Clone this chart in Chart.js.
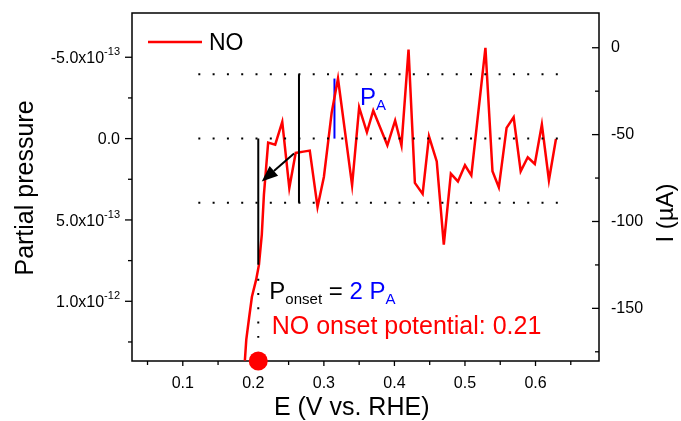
<!DOCTYPE html>
<html><head><meta charset="utf-8">
<script src="https://cdn.jsdelivr.net/npm/chart.js@4.4.0/dist/chart.umd.min.js"></script>
<style>html,body{margin:0;padding:0;background:#fff;}#wrap{width:681px;height:421px;}</style>
</head><body><div id="wrap"><canvas id="c" width="681" height="421"></canvas></div>
<script>
// ---- data ----
const E_NO = [0.188, 0.190, 0.194, 0.198, 0.204, 0.208, 0.212, 0.215, 0.221, 0.231, 0.241, 0.251, 0.260, 0.271, 0.280, 0.291, 0.300, 0.311, 0.320, 0.340, 0.350, 0.361, 0.370, 0.390, 0.401, 0.410, 0.420, 0.429, 0.440, 0.449, 0.460, 0.470, 0.480, 0.490, 0.500, 0.509, 0.529, 0.539, 0.548, 0.559, 0.569, 0.579, 0.589, 0.599, 0.609, 0.619, 0.629];
const P_NO = [13.65e-13, 12.36e-13, 11.01e-13, 9.72e-13, 8.67e-13, 7.75e-13, 5.90e-13, 3.44e-13, 0.25e-13, 0.37e-13, -1.03e-13, 3.03e-13, 0.88e-13, 0.80e-13, 0.74e-13, 4.20e-13, 2.36e-13, -1.58e-13, -3.69e-13, 2.87e-13, -1.92e-13, -0.39e-13, -1.72e-13, 0.41e-13, -1.11e-13, 0.43e-13, -5.47e-13, 2.72e-13, 3.40e-13, -0.14e-13, 1.40e-13, 6.52e-13, 2.15e-13, 2.63e-13, 1.64e-13, 2.26e-13, -5.58e-13, 2.01e-13, 3.00e-13, -0.66e-13, -1.31e-13, 2.01e-13, 1.15e-13, 1.56e-13, -0.86e-13, 2.56e-13, 0.02e-13];

const xTicks = [0.1, 0.2, 0.3, 0.4, 0.5, 0.6];
const xMinor = [0.05, 0.15, 0.25, 0.35, 0.45, 0.55, 0.65];
const pTicks = [-5e-13, 0, 5e-13, 1e-12];
const pTickMant = ['-5.0', '0.0', '5.0', '1.0'];
const pTickExp = ['-13', '', '-13', '-12'];
const pMinor = [-2.5e-13, 2.5e-13, 7.5e-13, 1.25e-12];
const iTicks = [0, -50, -100, -150];
const iMinor = [-25, -75, -125, -175];
const xRange = [0.028, 0.69];
const pRange = [-7.72e-13, 1.367e-12];
const iRange = [-180.3, 20];

// annotation values
const refLevels = [-3.95e-13, 0, 3.95e-13];
const refSpan = [0.122, 0.648];
const onsetE = 0.207, onsetP = 7.75e-13, dotStart = 8.61e-13, dotEnd = 12.24e-13;
const paE = 0.2647;
const blueE = 0.315, blueTop = -3.69e-13;
const arrowFrom = [0.2577, 0.92e-13], arrowTo = [0.2119, 2.63e-13];
const paLabelAt = [0.3511, -2.09e-13];
const ponsetLabelAt = [0.2227, 9.86e-13];
const onsetLabelAt = [0.2261, 11.99e-13];

const FAM = '"Liberation Sans", Arial, Helvetica, sans-serif';
const RED = '#ff0000', BLUE = '#0000ff';

const seg = (x1, y1, x2, y2) => [{x: x1, y: y1}, {x: x2, y: y2}];
const datasets = [];
refLevels.forEach(L => datasets.push({data: seg(refSpan[0], L, refSpan[1], L), borderColor: '#000', borderWidth: 2, borderDash: [2, 12.3], pointRadius: 0, showLine: true}));
datasets.push({data: seg(onsetE, 0, onsetE, onsetP), borderColor: '#000', borderWidth: 2, pointRadius: 0, showLine: true});
datasets.push({data: seg(onsetE, dotStart, onsetE, dotEnd), borderColor: '#000', borderWidth: 2, borderDash: [2, 12.3], pointRadius: 0, showLine: true});
datasets.push({data: seg(paE, refLevels[0], paE, refLevels[2]), borderColor: '#000', borderWidth: 2, pointRadius: 0, showLine: true});
datasets.push({data: E_NO.map((e, i) => ({x: e, y: P_NO[i]})), borderColor: RED, borderWidth: 2.5, pointRadius: 0, showLine: true, label: 'NO'});
datasets.push({data: seg(blueE, 0, blueE, blueTop), borderColor: BLUE, borderWidth: 2, pointRadius: 0, showLine: true});
datasets.push({data: [{x: onsetE, y: pRange[1]}], pointRadius: 9.5, pointBackgroundColor: RED, pointBorderColor: RED, borderWidth: 0, showLine: false, clip: false});

function tickMarks(ctx, scale, vals, len, horiz, base, dir) {
  vals.forEach(v => {
    const p = scale.getPixelForValue(v);
    ctx.beginPath();
    if (horiz) { ctx.moveTo(p, base); ctx.lineTo(p, base + dir * len); }
    else { ctx.moveTo(base, p); ctx.lineTo(base + dir * len, p); }
    ctx.stroke();
  });
}

const deco = {
  id: 'deco',
  beforeDatasetsDraw(chart) {
    const {ctx, chartArea: a, scales: {x, y, y2}} = chart;
    ctx.save();
    ctx.strokeStyle = '#000'; ctx.lineWidth = 1.5;
    ctx.strokeRect(a.left, a.top, a.right - a.left, a.bottom - a.top);
    ctx.lineWidth = 1.3;
    tickMarks(ctx, x, xTicks, 5, true, a.bottom, 1);
    tickMarks(ctx, x, xMinor, 4, true, a.bottom, 1);
    tickMarks(ctx, y, pTicks, 7, false, a.left, -1);
    tickMarks(ctx, y, pMinor, 4, false, a.left, -1);
    tickMarks(ctx, y2, iTicks, 7, false, a.right, -1);
    tickMarks(ctx, y2, iMinor, 4, false, a.right, -1);
    // left tick labels with superscripts
    ctx.fillStyle = '#000';
    pTicks.forEach((v, i) => {
      const py = y.getPixelForValue(v);
      let right = 120;
      ctx.textAlign = 'right'; ctx.textBaseline = 'alphabetic';
      if (pTickExp[i]) {
        ctx.font = '11px ' + FAM;
        ctx.fillText(pTickExp[i], right, py - 2.3);
        right -= ctx.measureText(pTickExp[i]).width;
        ctx.font = '16px ' + FAM;
        ctx.fillText(pTickMant[i] + 'x10', right, py + 5.7);
      } else {
        ctx.font = '16px ' + FAM;
        ctx.fillText(pTickMant[i], right, py + 5.7);
      }
    });
    // axis titles
    ctx.font = '25px ' + FAM; ctx.textAlign = 'center'; ctx.textBaseline = 'alphabetic';
    ctx.fillText('E (V vs. RHE)', 351.7, 415);
    ctx.save(); ctx.translate(33, 188); ctx.rotate(-Math.PI / 2); ctx.fillText('Partial pressure', 0, 0); ctx.restore();
    ctx.font = '24px ' + FAM;
    ctx.save(); ctx.translate(673, 213); ctx.rotate(-Math.PI / 2); ctx.fillText('I (\u00B5A)', 0, 0); ctx.restore();
    ctx.restore();
  },
  afterDatasetsDraw(chart) {
    const {ctx, chartArea: a, scales: {x, y}} = chart;
    ctx.save();
    // arrow
    const x1 = x.getPixelForValue(arrowFrom[0]), y1 = y.getPixelForValue(arrowFrom[1]);
    const x2 = x.getPixelForValue(arrowTo[0]), y2p = y.getPixelForValue(arrowTo[1]);
    const ang = Math.atan2(y2p - y1, x2 - x1), hl = 16, hw = 6.5;
    const bx = x2 - hl * Math.cos(ang), by = y2p - hl * Math.sin(ang);
    ctx.strokeStyle = '#000'; ctx.fillStyle = '#000'; ctx.lineWidth = 2;
    ctx.beginPath(); ctx.moveTo(x1, y1); ctx.lineTo(bx, by); ctx.stroke();
    ctx.beginPath(); ctx.moveTo(x2, y2p);
    ctx.lineTo(bx + hw * Math.sin(ang), by - hw * Math.cos(ang));
    ctx.lineTo(bx - hw * Math.sin(ang), by + hw * Math.cos(ang));
    ctx.closePath(); ctx.fill();
    // texts
    ctx.textAlign = 'left'; ctx.textBaseline = 'alphabetic';
    const run = (parts, px, py) => {
      let cx = px;
      parts.forEach(([t, col, sz, dy]) => {
        ctx.font = sz + 'px ' + FAM; ctx.fillStyle = col;
        ctx.fillText(t, cx, py + dy);
        cx += ctx.measureText(t).width;
      });
    };
    run([['P', BLUE, 24, 0], ['A', BLUE, 15, 5]], x.getPixelForValue(paLabelAt[0]), y.getPixelForValue(paLabelAt[1]));
    run([['P', '#000', 24, 0], ['onset', '#000', 15, 5], [' = ', '#000', 24, 0], ['2 P', BLUE, 24, 0], ['A', BLUE, 15, 5]],
        x.getPixelForValue(ponsetLabelAt[0]), y.getPixelForValue(ponsetLabelAt[1]));
    run([['NO onset potential: 0.21', RED, 25, 0]], x.getPixelForValue(onsetLabelAt[0]), y.getPixelForValue(onsetLabelAt[1]));
    // legend
    ctx.strokeStyle = RED; ctx.lineWidth = 2.5;
    ctx.beginPath(); ctx.moveTo(a.left + 16, a.top + 29); ctx.lineTo(a.left + 70, a.top + 29); ctx.stroke();
    ctx.fillStyle = '#000'; ctx.font = '23px ' + FAM;
    ctx.fillText('NO', a.left + 77, a.top + 37);
    ctx.restore();
  }
};

const noPad = s => { s.paddingTop = 0; s.paddingBottom = 0; s.paddingLeft = 0; s.paddingRight = 0; };

new Chart(document.getElementById('c'), {
  type: 'scatter',
  data: {datasets},
  options: {
    responsive: false, animation: false, devicePixelRatio: 1,
    layout: {padding: {top: 13, left: 0, right: 0, bottom: 0}},
    plugins: {legend: {display: false}, tooltip: {enabled: false}},
    scales: {
      x: {type: 'linear', position: 'bottom', min: xRange[0], max: xRange[1],
        grid: {display: false, drawTicks: false}, border: {display: false},
        ticks: {font: {size: 16, family: FAM}, color: '#000', padding: 13, maxRotation: 0, callback: v => v.toFixed(1)},
        afterBuildTicks: s => { s.ticks = xTicks.map(v => ({value: v})); },
        afterFit: s => { s.height = 60; noPad(s); }},
      y: {type: 'linear', position: 'left', reverse: true, min: pRange[0], max: pRange[1],
        grid: {display: false, drawTicks: false}, border: {display: false},
        ticks: {display: false},
        afterBuildTicks: s => { s.ticks = pTicks.map(v => ({value: v})); },
        afterFit: s => { s.width = 132; noPad(s); }},
      y2: {type: 'linear', position: 'right', display: true, min: iRange[0], max: iRange[1],
        grid: {display: false, drawTicks: false}, border: {display: false},
        ticks: {font: {size: 16, family: FAM}, color: '#000', padding: 12, callback: v => String(v)},
        afterBuildTicks: s => { s.ticks = iTicks.map(v => ({value: v})); },
        afterFit: s => { s.width = 82; noPad(s); }}
    }
  },
  plugins: [deco]
});
</script></body></html>
